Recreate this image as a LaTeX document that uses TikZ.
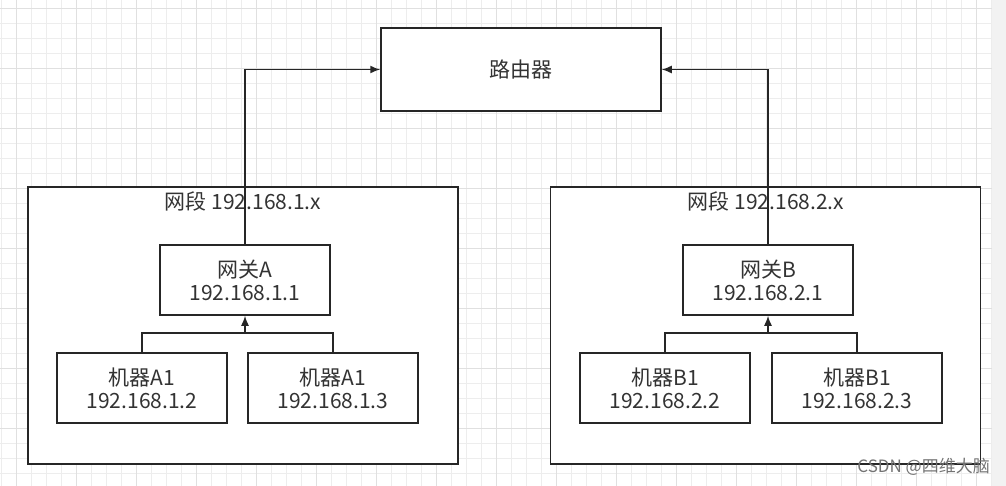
\documentclass[tikz,border=0pt]{standalone}
\usepackage{fontspec}
\newfontfamily\cjk{Noto Sans CJK SC}
\usetikzlibrary{arrows.meta}

\begin{document}
\begin{tikzpicture}[
  x=1pt, y=-1pt,
  >={Latex[length=10pt,width=8pt]},
  every node/.style={inner sep=0pt, anchor=center, text=black!80,
    font=\cjk\fontsize{21}{23}\selectfont},
  box/.style={line width=1.5pt, draw=black!85, fill=white,
    minimum width=170pt, minimum height=70pt, align=center},
  segment/.style={line width=1.5pt, draw=black!85, fill=white,
    minimum width=430pt, minimum height=277pt},
  wire/.style={line width=1.5pt, draw=black!85},
  minorgrid/.style={draw=black!7, line width=0.6pt},
  majorgrid/.style={draw=black!12, line width=0.8pt}
]
  \useasboundingbox (0,0) rectangle (1006,486);
  % ----- background grid -----
  \foreach \gx in {1.7,16.7,...,1000} \draw[minorgrid] (\gx,0) -- (\gx,486);
  \foreach \gy in {8.3,23.3,...,486} \draw[minorgrid] (0,\gy) -- (1006,\gy);
  \foreach \gx in {16.7,76.7,...,1000} \draw[majorgrid] (\gx,0) -- (\gx,486);
  \foreach \gy in {8.3,68.3,...,486} \draw[majorgrid] (0,\gy) -- (1006,\gy);
  \fill[black!5] (992,0) rectangle (1006,486);
  % ----- router -----
  \node[box, minimum width=280pt, minimum height=83pt] (router) at (521,69.5) {路由器};
  % ----- segment 1 -----
  \node[segment] (netA) at (243,325.5) {};
  \node (labA) at (243,202) {网段 192.168.1.x};
  \node[box] (GA) at (245,280) {网关A\\192.168.1.1};
  \node[box] (A2) at (142,388) {机器A1\\192.168.1.2};
  \node[box] (A3) at (333,388) {机器A1\\192.168.1.3};
  % ----- segment 2 -----
  \node[segment] (netB) at (765.5,325.5) {};
  \node (labB) at (766,202) {网段 192.168.2.x};
  \node[box] (GB) at (768,280) {网关B\\192.168.2.1};
  \node[box] (B2) at (665,388) {机器B1\\192.168.2.2};
  \node[box] (B3) at (857,388) {机器B1\\192.168.2.3};
  % ----- gateways up to router -----
  \draw[->,wire] (GA.north) |- (router.west);
  \draw[->,wire] (GB.north) |- (router.east);
  % ----- machines up to gateways -----
  \coordinate (busA) at (245,333);
  \coordinate (busB) at (768,333);
  \draw[wire] (A2.north) |- (busA);
  \draw[wire] (A3.north) |- (busA);
  \draw[->,wire] (busA) -- (GA.south);
  \draw[wire] (B2.north) |- (busB);
  \draw[wire] (B3.north) |- (busB);
  \draw[->,wire] (busB) -- (GB.south);
  % ----- watermark -----
  \node[text=black!55, font=\cjk\fontsize{17}{18}\selectfont, anchor=east] (mark) at (990,467) {CSDN @四维大脑};
\end{tikzpicture}
\end{document}
